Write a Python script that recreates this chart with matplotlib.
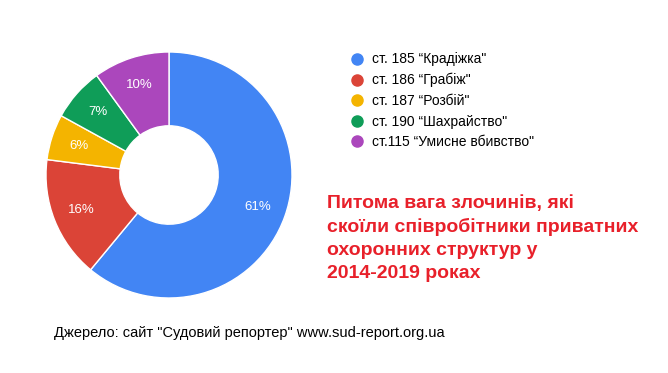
import matplotlib
matplotlib.use("Agg")
import matplotlib.pyplot as plt
from matplotlib.lines import Line2D

plt.rcParams['font.family'] = ['Liberation Sans', 'DejaVu Sans']

categories = ['ст. 185 “Крадіжка"', 'ст. 186 “Грабіж"', 'ст. 187 “Розбій"',
              'ст. 190 “Шахрайство"', 'ст.115 “Умисне вбивство"']
values = [61, 16, 6, 7, 10]
colors = ['#4285f4', '#db4437', '#f4b400', '#0f9d58', '#ab47bc']
title = ('Питома вага злочинів, які\nскоїли співробітники приватних\n'
         'охоронних структур у\n2014-2019 роках')
source = 'Джерело: сайт "Судовий репортер" www.sud-report.org.ua'

W, H = 668, 373
fig = plt.figure(figsize=(W / 100, H / 100), dpi=100)
cx, cy, r = 169, 175, 123
ax = fig.add_axes([(cx - r) / W, (H - cy - r) / H, 2 * r / W, 2 * r / H])
wedges, texts, autotexts = ax.pie(
    values, colors=colors, startangle=90, counterclock=False,
    autopct=lambda p: f'{p:.0f}%', pctdistance=0.77,
    wedgeprops=dict(width=0.6, edgecolor='white', linewidth=1),
    textprops=dict(color='white', fontsize=9.5))
ax.set_xlim(-1, 1)
ax.set_ylim(-1, 1)
ax.set_aspect('equal')
ax.axis('off')

handles = [Line2D([], [], marker='o', linestyle='none', markersize=8,
                  markerfacecolor=c, markeredgecolor=c) for c in colors]
fig.legend(handles, categories, loc='upper left',
           bbox_to_anchor=(351 / W, 1 - 52.5 / H), frameon=False,
           fontsize=10, handlelength=0.9, handletextpad=0.6,
           labelspacing=0.47, borderaxespad=0, borderpad=0)

fig.text(327 / W, 1 - 195 / H, title, color='#e8202a', fontsize=14,
         fontweight='bold', va='top', ha='left', linespacing=1.45)
fig.text(54 / W, 1 - 333 / H, source, color='black', fontsize=10.5,
         va='center', ha='left')

fig.savefig('out.png', dpi=100, facecolor='white')
